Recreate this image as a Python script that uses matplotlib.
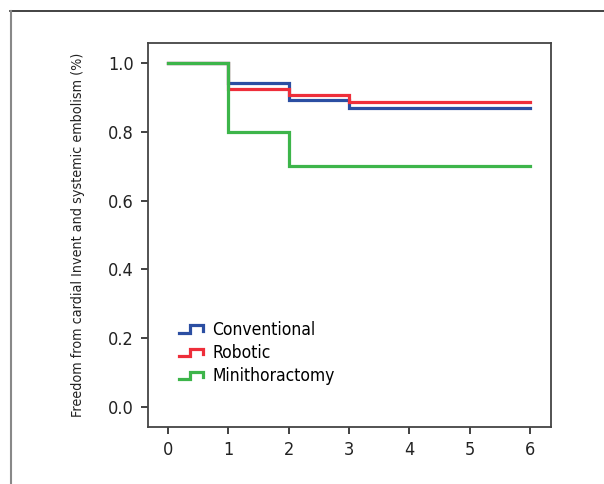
import matplotlib
matplotlib.use('Agg')
import matplotlib.pyplot as plt
from matplotlib.lines import Line2D
from matplotlib.legend_handler import HandlerBase

plt.rcParams['font.family'] = ['DejaVu Sans']
plt.rcParams['font.stretch'] = 'condensed'

# Datos
tiempo = [0, 1, 2, 3, 6]
convencional = [1.0, 0.941, 0.893, 0.870, 0.870]
robotica = [1.0, 0.925, 0.906, 0.887, 0.887]
minitoracotomia = [1.0, 0.80, 0.70, 0.70, 0.70]
nombres = ['Conventional', 'Robotic', 'Minithoractomy']
colores = ['#2b4ea2', '#ee2e3a', '#3db54a']
xticks = [0, 1, 2, 3, 4, 5, 6]
yticks = [0.0, 0.2, 0.4, 0.6, 0.8, 1.0]


class HandlerEscalon(HandlerBase):
    def create_artists(self, legend, orig, xd, yd, w, h, fontsize, trans):
        xs = [xd, xd + 0.45 * w, xd + 0.45 * w, xd + w, xd + w]
        ys = [yd + 0.2 * h, yd + 0.2 * h, yd + 0.8 * h, yd + 0.8 * h, yd + 0.35 * h]
        ln = Line2D(xs, ys, color=orig.get_color(), lw=orig.get_linewidth(),
                    solid_joinstyle='miter', transform=trans)
        return [ln]


fig = plt.figure(figsize=(6.04, 4.84), dpi=100)
ax = fig.add_axes([148 / 604, 57 / 484, 403 / 604, 384 / 484])

lineas = []
for serie, nombre, color in zip([convencional, robotica, minitoracotomia], nombres, colores):
    ln, = ax.step(tiempo, serie, where='post', color=color, lw=2.3, label=nombre,
                  solid_joinstyle='miter')
    lineas.append(ln)

ax.set_xlim(-0.33, 6.35)
ax.set_ylim(-0.058, 1.058)
ax.set_xticks(xticks)
ax.set_yticks(yticks)
ax.set_xticklabels([str(t) for t in xticks])
ax.set_yticklabels(['%.1f' % t for t in yticks])
ax.tick_params(direction='out', length=5, width=1.3, color='#333333',
               labelsize=13, labelcolor='#222222', pad=5)
for s in ax.spines.values():
    s.set_color('#444444')
    s.set_linewidth(1.3)

ax.set_ylabel('Freedom from cardial Invent and systemic embolism (%)',
              fontsize=10.3, color='#222222', labelpad=17)

ax.legend(lineas, nombres, handler_map={Line2D: HandlerEscalon()},
          loc='lower left', bbox_to_anchor=(0.06, 0.09), frameon=False,
          fontsize=12.5, handlelength=1.4, handletextpad=0.5, labelspacing=0.3,
          borderaxespad=0)

# marco exterior
fig.add_artist(Line2D([10 / 604, 1], [1 - 10.5 / 484, 1 - 10.5 / 484],
                      color='#222222', lw=1.2, transform=fig.transFigure))
fig.add_artist(Line2D([10.7 / 604, 10.7 / 604], [0, 1 - 10.5 / 484],
                      color='#888888', lw=1.5, transform=fig.transFigure))

fig.savefig('out.png', dpi=100)
